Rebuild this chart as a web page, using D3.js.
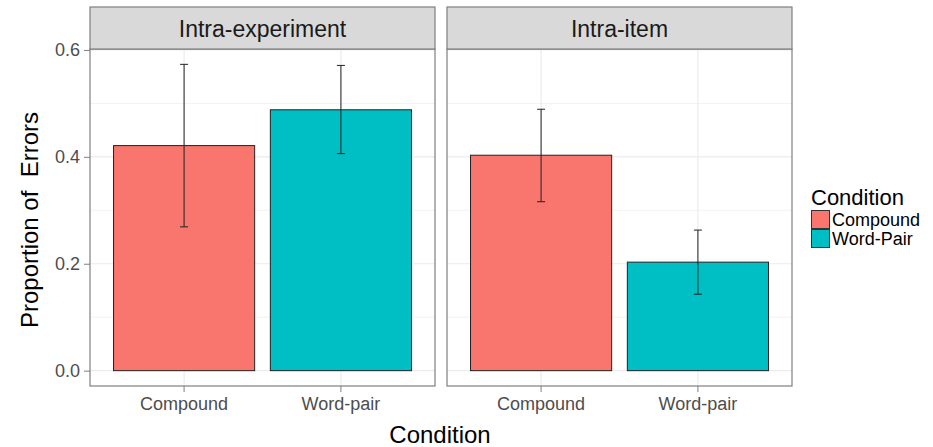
<!DOCTYPE html>
<html>
<head>
<meta charset="utf-8">
<script src="https://cdn.jsdelivr.net/npm/d3@7"></script>
<style>
  body { margin: 0; background: #fff; }
  svg { font-family: Arial, "Liberation Sans", sans-serif; }
</style>
</head>
<body>
<svg width="933" height="447"></svg>
<script>
// data
const panels = ["Intra-experiment", "Intra-item"];
const conditions = ["Compound", "Word-pair"];
const legendLabels = ["Compound", "Word-Pair"];
const means = [[0.421, 0.488], [0.403, 0.203]];
const lower = [[0.269, 0.406], [0.316, 0.143]];
const upper = [[0.573, 0.571], [0.489, 0.263]];
const yTicks = [0, 0.2, 0.4, 0.6];
const yMinor = [0.1, 0.3, 0.5];
const colors = ["#F8766D", "#00BFC4"];

const svg = d3.select("svg");

const panelLeft = [90, 447];
const panelW = 345;
const stripTop = 7, stripBottom = 49, panelBottom = 386;

// y scale with ggplot style expansion
const y = d3.scaleLinear().domain([-0.0287, 0.6017]).range([panelBottom, stripBottom]);

// bars 0.9 wide, 0.6 expansion at each end
const x = d3.scaleBand().domain(conditions).range([0, panelW])
  .paddingInner(0.1).paddingOuter(0.15);

panels.forEach((p, i) => {
  const g = svg.append("g").attr("transform", `translate(${panelLeft[i]},0)`);

  // minor grid
  g.selectAll(".minor").data(yMinor).enter().append("line")
    .attr("x1", 0).attr("x2", panelW)
    .attr("y1", d => y(d)).attr("y2", d => y(d))
    .attr("stroke", "#f2f2f2").attr("stroke-width", 1);
  // major grid
  g.selectAll(".major").data(yTicks).enter().append("line")
    .attr("x1", 0).attr("x2", panelW)
    .attr("y1", d => y(d)).attr("y2", d => y(d))
    .attr("stroke", "#ebebeb").attr("stroke-width", 1.2);
  g.selectAll(".vgrid").data(conditions).enter().append("line")
    .attr("x1", d => x(d) + x.bandwidth() / 2).attr("x2", d => x(d) + x.bandwidth() / 2)
    .attr("y1", stripBottom).attr("y2", panelBottom)
    .attr("stroke", "#ebebeb").attr("stroke-width", 1.2);

  // bars
  g.selectAll(".bar").data(conditions).enter().append("rect")
    .attr("x", d => x(d))
    .attr("width", x.bandwidth())
    .attr("y", (d, j) => y(means[i][j]))
    .attr("height", (d, j) => y(0) - y(means[i][j]))
    .attr("fill", (d, j) => colors[j])
    .attr("stroke", "#222").attr("stroke-width", 1);

  // error bars
  conditions.forEach((c, j) => {
    const cx = x(c) + x.bandwidth() / 2;
    const eg = g.append("g").attr("stroke", "#222").attr("stroke-width", 1);
    eg.append("line").attr("x1", cx).attr("x2", cx)
      .attr("y1", y(lower[i][j])).attr("y2", y(upper[i][j]));
    [lower[i][j], upper[i][j]].forEach(v => {
      eg.append("line").attr("x1", cx - 4).attr("x2", cx + 4)
        .attr("y1", y(v)).attr("y2", y(v));
    });
  });

  // panel border
  g.append("rect").attr("x", 0).attr("y", stripBottom)
    .attr("width", panelW).attr("height", panelBottom - stripBottom)
    .attr("fill", "none").attr("stroke", "#7f7f7f").attr("stroke-width", 1.2);

  // strip
  g.append("rect").attr("x", 0).attr("y", stripTop)
    .attr("width", panelW).attr("height", stripBottom - stripTop)
    .attr("fill", "#d9d9d9").attr("stroke", "#7f7f7f").attr("stroke-width", 1.2);
  g.append("text").attr("x", panelW / 2).attr("y", 37)
    .attr("text-anchor", "middle").attr("font-size", 23).attr("fill", "#1a1a1a")
    .text(p);

  // x axis
  const xa = g.append("g").attr("transform", `translate(0,${panelBottom})`)
    .call(d3.axisBottom(x).tickSize(6).tickPadding(5));
  xa.select(".domain").remove();
  xa.selectAll("line").attr("stroke", "#7f7f7f");
  xa.selectAll("text").attr("font-size", 18).attr("fill", "#4d4d4d")
    .attr("font-family", "Arial, 'Liberation Sans', sans-serif");
});

// y axis
const ya = svg.append("g").attr("transform", `translate(${panelLeft[0]},0)`)
  .call(d3.axisLeft(y).tickValues(yTicks).tickFormat(d3.format(".1f")).tickSize(6).tickPadding(4));
ya.select(".domain").remove();
ya.selectAll("line").attr("stroke", "#7f7f7f");
ya.selectAll("text").attr("font-size", 18).attr("fill", "#4d4d4d")
  .attr("font-family", "Arial, 'Liberation Sans', sans-serif");

// axis titles
svg.append("text").attr("transform", "translate(38,220) rotate(-90)")
  .attr("text-anchor", "middle").attr("font-size", 24).attr("fill", "#000")
  .style("white-space", "pre")
  .text("Proportion of  Errors");
svg.append("text").attr("x", 440).attr("y", 443)
  .attr("text-anchor", "middle").attr("font-size", 24).attr("fill", "#000")
  .text("Condition");

// legend
const lg = svg.append("g").attr("transform", "translate(811,0)");
lg.append("text").attr("x", 0).attr("y", 205).attr("font-size", 22).attr("fill", "#000")
  .text("Condition");
legendLabels.forEach((l, j) => {
  lg.append("rect").attr("x", 0.5).attr("y", 210.5 + j * 19)
    .attr("width", 18).attr("height", 18)
    .attr("fill", colors[j]).attr("stroke", "#333").attr("stroke-width", 1);
  lg.append("text").attr("x", 21).attr("y", 226 + j * 19)
    .attr("font-size", 18).attr("fill", "#000").text(l);
});
</script>
</body>
</html>
